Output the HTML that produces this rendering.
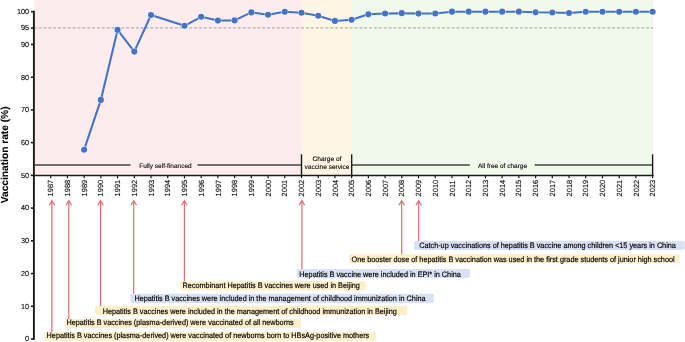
<!DOCTYPE html>
<html><head><meta charset="utf-8"><style>
html,body{margin:0;padding:0;background:#fff;width:685px;height:342px;overflow:hidden}
svg{display:block;font-family:"Liberation Sans", sans-serif;will-change:transform;text-rendering:geometricPrecision}
text{fill:#000;stroke:#000;stroke-width:.1px}
.an{fill:#000;stroke:#000;stroke-width:.16px}
</style></head><body>
<svg width="685" height="342" viewBox="0 0 685 342">
<rect x="34" y="0" width="268" height="175.5" fill="#fcecee"/>
<rect x="302" y="0" width="50" height="175.5" fill="#fff6e5"/>
<rect x="352" y="0" width="301" height="175.5" fill="#f1f8ec"/>
<line x1="33.8" y1="27.8" x2="653.22" y2="27.8" stroke="#b1aeae" stroke-width="1.3" stroke-dasharray="2.9 1.96"/>
<line x1="33.9" y1="10.8" x2="33.9" y2="339.7" stroke="#1a1a1a" stroke-width="1.9"/>
<line x1="30.9" y1="11.70" x2="34" y2="11.70" stroke="#1a1a1a" stroke-width="1.6"/>
<text x="29.1" y="14.05" text-anchor="end" font-size="7.3" fill="#222">100</text>
<line x1="30.9" y1="28.06" x2="34" y2="28.06" stroke="#1a1a1a" stroke-width="1.6"/>
<text x="29.1" y="30.41" text-anchor="end" font-size="7.3" fill="#222">95</text>
<line x1="30.9" y1="44.43" x2="34" y2="44.43" stroke="#1a1a1a" stroke-width="1.6"/>
<text x="29.1" y="46.78" text-anchor="end" font-size="7.3" fill="#222">90</text>
<line x1="30.9" y1="77.16" x2="34" y2="77.16" stroke="#1a1a1a" stroke-width="1.6"/>
<text x="29.1" y="79.51" text-anchor="end" font-size="7.3" fill="#222">80</text>
<line x1="30.9" y1="109.89" x2="34" y2="109.89" stroke="#1a1a1a" stroke-width="1.6"/>
<text x="29.1" y="112.24" text-anchor="end" font-size="7.3" fill="#222">70</text>
<line x1="30.9" y1="142.62" x2="34" y2="142.62" stroke="#1a1a1a" stroke-width="1.6"/>
<text x="29.1" y="144.97" text-anchor="end" font-size="7.3" fill="#222">60</text>
<line x1="30.9" y1="175.35" x2="34" y2="175.35" stroke="#1a1a1a" stroke-width="1.6"/>
<text x="29.1" y="177.70" text-anchor="end" font-size="7.3" fill="#222">50</text>
<line x1="30.9" y1="208.08" x2="34" y2="208.08" stroke="#1a1a1a" stroke-width="1.6"/>
<text x="29.1" y="210.43" text-anchor="end" font-size="7.3" fill="#222">40</text>
<line x1="30.9" y1="240.81" x2="34" y2="240.81" stroke="#1a1a1a" stroke-width="1.6"/>
<text x="29.1" y="243.16" text-anchor="end" font-size="7.3" fill="#222">30</text>
<line x1="30.9" y1="273.54" x2="34" y2="273.54" stroke="#1a1a1a" stroke-width="1.6"/>
<text x="29.1" y="275.89" text-anchor="end" font-size="7.3" fill="#222">20</text>
<line x1="30.9" y1="306.27" x2="34" y2="306.27" stroke="#1a1a1a" stroke-width="1.6"/>
<text x="29.1" y="308.62" text-anchor="end" font-size="7.3" fill="#222">10</text>
<line x1="30.9" y1="339.00" x2="34" y2="339.00" stroke="#1a1a1a" stroke-width="1.6"/>
<text x="29.1" y="341.35" text-anchor="end" font-size="7.3" fill="#222">0</text>
<line x1="33.1" y1="175.5" x2="653.52" y2="175.5" stroke="#1a1a1a" stroke-width="1.6"/>
<line x1="50.70" y1="175.5" x2="50.70" y2="178.3" stroke="#1a1a1a" stroke-width="1.2"/>
<text transform="translate(53.30,196.4) rotate(-90)" font-size="7.5" fill="#222">1987</text>
<line x1="67.42" y1="175.5" x2="67.42" y2="178.3" stroke="#1a1a1a" stroke-width="1.2"/>
<text transform="translate(70.02,196.4) rotate(-90)" font-size="7.5" fill="#222">1988</text>
<line x1="84.14" y1="175.5" x2="84.14" y2="178.3" stroke="#1a1a1a" stroke-width="1.2"/>
<text transform="translate(86.74,196.4) rotate(-90)" font-size="7.5" fill="#222">1989</text>
<line x1="100.86" y1="175.5" x2="100.86" y2="178.3" stroke="#1a1a1a" stroke-width="1.2"/>
<text transform="translate(103.46,196.4) rotate(-90)" font-size="7.5" fill="#222">1990</text>
<line x1="117.58" y1="175.5" x2="117.58" y2="178.3" stroke="#1a1a1a" stroke-width="1.2"/>
<text transform="translate(120.18,196.4) rotate(-90)" font-size="7.5" fill="#222">1991</text>
<line x1="134.30" y1="175.5" x2="134.30" y2="178.3" stroke="#1a1a1a" stroke-width="1.2"/>
<text transform="translate(136.90,196.4) rotate(-90)" font-size="7.5" fill="#222">1992</text>
<line x1="151.02" y1="175.5" x2="151.02" y2="178.3" stroke="#1a1a1a" stroke-width="1.2"/>
<text transform="translate(153.62,196.4) rotate(-90)" font-size="7.5" fill="#222">1993</text>
<line x1="167.74" y1="175.5" x2="167.74" y2="178.3" stroke="#1a1a1a" stroke-width="1.2"/>
<text transform="translate(170.34,196.4) rotate(-90)" font-size="7.5" fill="#222">1994</text>
<line x1="184.46" y1="175.5" x2="184.46" y2="178.3" stroke="#1a1a1a" stroke-width="1.2"/>
<text transform="translate(187.06,196.4) rotate(-90)" font-size="7.5" fill="#222">1995</text>
<line x1="201.18" y1="175.5" x2="201.18" y2="178.3" stroke="#1a1a1a" stroke-width="1.2"/>
<text transform="translate(203.78,196.4) rotate(-90)" font-size="7.5" fill="#222">1996</text>
<line x1="217.90" y1="175.5" x2="217.90" y2="178.3" stroke="#1a1a1a" stroke-width="1.2"/>
<text transform="translate(220.50,196.4) rotate(-90)" font-size="7.5" fill="#222">1997</text>
<line x1="234.62" y1="175.5" x2="234.62" y2="178.3" stroke="#1a1a1a" stroke-width="1.2"/>
<text transform="translate(237.22,196.4) rotate(-90)" font-size="7.5" fill="#222">1998</text>
<line x1="251.34" y1="175.5" x2="251.34" y2="178.3" stroke="#1a1a1a" stroke-width="1.2"/>
<text transform="translate(253.94,196.4) rotate(-90)" font-size="7.5" fill="#222">1999</text>
<line x1="268.06" y1="175.5" x2="268.06" y2="178.3" stroke="#1a1a1a" stroke-width="1.2"/>
<text transform="translate(270.66,196.4) rotate(-90)" font-size="7.5" fill="#222">2000</text>
<line x1="284.78" y1="175.5" x2="284.78" y2="178.3" stroke="#1a1a1a" stroke-width="1.2"/>
<text transform="translate(287.38,196.4) rotate(-90)" font-size="7.5" fill="#222">2001</text>
<line x1="301.50" y1="175.5" x2="301.50" y2="178.3" stroke="#1a1a1a" stroke-width="1.2"/>
<text transform="translate(304.10,196.4) rotate(-90)" font-size="7.5" fill="#222">2002</text>
<line x1="318.22" y1="175.5" x2="318.22" y2="178.3" stroke="#1a1a1a" stroke-width="1.2"/>
<text transform="translate(320.82,196.4) rotate(-90)" font-size="7.5" fill="#222">2003</text>
<line x1="334.94" y1="175.5" x2="334.94" y2="178.3" stroke="#1a1a1a" stroke-width="1.2"/>
<text transform="translate(337.54,196.4) rotate(-90)" font-size="7.5" fill="#222">2004</text>
<line x1="351.66" y1="175.5" x2="351.66" y2="178.3" stroke="#1a1a1a" stroke-width="1.2"/>
<text transform="translate(354.26,196.4) rotate(-90)" font-size="7.5" fill="#222">2005</text>
<line x1="368.38" y1="175.5" x2="368.38" y2="178.3" stroke="#1a1a1a" stroke-width="1.2"/>
<text transform="translate(370.98,196.4) rotate(-90)" font-size="7.5" fill="#222">2006</text>
<line x1="385.10" y1="175.5" x2="385.10" y2="178.3" stroke="#1a1a1a" stroke-width="1.2"/>
<text transform="translate(387.70,196.4) rotate(-90)" font-size="7.5" fill="#222">2007</text>
<line x1="401.82" y1="175.5" x2="401.82" y2="178.3" stroke="#1a1a1a" stroke-width="1.2"/>
<text transform="translate(404.42,196.4) rotate(-90)" font-size="7.5" fill="#222">2008</text>
<line x1="418.54" y1="175.5" x2="418.54" y2="178.3" stroke="#1a1a1a" stroke-width="1.2"/>
<text transform="translate(421.14,196.4) rotate(-90)" font-size="7.5" fill="#222">2009</text>
<line x1="435.26" y1="175.5" x2="435.26" y2="178.3" stroke="#1a1a1a" stroke-width="1.2"/>
<text transform="translate(437.86,196.4) rotate(-90)" font-size="7.5" fill="#222">2010</text>
<line x1="451.98" y1="175.5" x2="451.98" y2="178.3" stroke="#1a1a1a" stroke-width="1.2"/>
<text transform="translate(454.58,196.4) rotate(-90)" font-size="7.5" fill="#222">2011</text>
<line x1="468.70" y1="175.5" x2="468.70" y2="178.3" stroke="#1a1a1a" stroke-width="1.2"/>
<text transform="translate(471.30,196.4) rotate(-90)" font-size="7.5" fill="#222">2012</text>
<line x1="485.42" y1="175.5" x2="485.42" y2="178.3" stroke="#1a1a1a" stroke-width="1.2"/>
<text transform="translate(488.02,196.4) rotate(-90)" font-size="7.5" fill="#222">2013</text>
<line x1="502.14" y1="175.5" x2="502.14" y2="178.3" stroke="#1a1a1a" stroke-width="1.2"/>
<text transform="translate(504.74,196.4) rotate(-90)" font-size="7.5" fill="#222">2014</text>
<line x1="518.86" y1="175.5" x2="518.86" y2="178.3" stroke="#1a1a1a" stroke-width="1.2"/>
<text transform="translate(521.46,196.4) rotate(-90)" font-size="7.5" fill="#222">2015</text>
<line x1="535.58" y1="175.5" x2="535.58" y2="178.3" stroke="#1a1a1a" stroke-width="1.2"/>
<text transform="translate(538.18,196.4) rotate(-90)" font-size="7.5" fill="#222">2016</text>
<line x1="552.30" y1="175.5" x2="552.30" y2="178.3" stroke="#1a1a1a" stroke-width="1.2"/>
<text transform="translate(554.90,196.4) rotate(-90)" font-size="7.5" fill="#222">2017</text>
<line x1="569.02" y1="175.5" x2="569.02" y2="178.3" stroke="#1a1a1a" stroke-width="1.2"/>
<text transform="translate(571.62,196.4) rotate(-90)" font-size="7.5" fill="#222">2018</text>
<line x1="585.74" y1="175.5" x2="585.74" y2="178.3" stroke="#1a1a1a" stroke-width="1.2"/>
<text transform="translate(588.34,196.4) rotate(-90)" font-size="7.5" fill="#222">2019</text>
<line x1="602.46" y1="175.5" x2="602.46" y2="178.3" stroke="#1a1a1a" stroke-width="1.2"/>
<text transform="translate(605.06,196.4) rotate(-90)" font-size="7.5" fill="#222">2020</text>
<line x1="619.18" y1="175.5" x2="619.18" y2="178.3" stroke="#1a1a1a" stroke-width="1.2"/>
<text transform="translate(621.78,196.4) rotate(-90)" font-size="7.5" fill="#222">2021</text>
<line x1="635.90" y1="175.5" x2="635.90" y2="178.3" stroke="#1a1a1a" stroke-width="1.2"/>
<text transform="translate(638.50,196.4) rotate(-90)" font-size="7.5" fill="#222">2022</text>
<line x1="652.62" y1="175.5" x2="652.62" y2="178.3" stroke="#1a1a1a" stroke-width="1.2"/>
<text transform="translate(655.22,196.4) rotate(-90)" font-size="7.5" fill="#222">2023</text>
<line x1="34" y1="165" x2="130.5" y2="165" stroke="#454545" stroke-width="1.6"/>
<line x1="197.5" y1="165" x2="301.50" y2="165" stroke="#454545" stroke-width="1.6"/>
<line x1="351.66" y1="165" x2="469.8" y2="165" stroke="#454545" stroke-width="1.6"/>
<line x1="534.6" y1="165" x2="652.62" y2="165" stroke="#454545" stroke-width="1.6"/>
<line x1="301.50" y1="154.3" x2="301.50" y2="176" stroke="#1a1a1a" stroke-width="1.4"/>
<line x1="351.66" y1="154.3" x2="351.66" y2="176" stroke="#1a1a1a" stroke-width="1.4"/>
<line x1="652.62" y1="154.3" x2="652.62" y2="176" stroke="#1a1a1a" stroke-width="1.4"/>
<text x="139.3" y="167.6" font-size="6.5" fill="#222">Fully self-financed</text>
<text x="327" y="161" text-anchor="middle" font-size="6.6" fill="#222">Charge of</text>
<text x="327" y="168.7" text-anchor="middle" font-size="6.6" fill="#222">vaccine service</text>
<text x="477.9" y="167.6" font-size="6.5" fill="#222">All free of charge</text>
<polyline points="84.14,149.70 100.86,99.90 117.58,29.90 134.30,51.60 151.02,15.00 184.46,25.80 201.18,16.80 217.90,20.60 234.62,20.40 251.34,12.40 268.06,14.70 284.78,11.70 301.50,12.80 318.22,15.80 334.94,20.90 351.66,19.70 368.38,14.35 385.10,13.45 401.82,13.15 418.54,13.60 435.26,13.55 451.98,11.65 468.70,11.65 485.42,11.65 502.14,11.65 518.86,11.65 535.58,12.35 552.30,12.50 569.02,13.00 585.74,11.75 602.46,11.75 619.18,11.75 635.90,11.75 652.62,11.75" fill="none" stroke="#4472c4" stroke-width="2.05" stroke-linejoin="round"/>
<circle cx="84.14" cy="149.70" r="3.45" fill="#fff" fill-opacity="0.85"/>
<circle cx="84.14" cy="149.70" r="3.05" fill="#4472c4"/>
<circle cx="100.86" cy="99.90" r="3.45" fill="#fff" fill-opacity="0.85"/>
<circle cx="100.86" cy="99.90" r="3.05" fill="#4472c4"/>
<circle cx="117.58" cy="29.90" r="3.45" fill="#fff" fill-opacity="0.85"/>
<circle cx="117.58" cy="29.90" r="3.05" fill="#4472c4"/>
<circle cx="134.30" cy="51.60" r="3.45" fill="#fff" fill-opacity="0.85"/>
<circle cx="134.30" cy="51.60" r="3.05" fill="#4472c4"/>
<circle cx="151.02" cy="15.00" r="3.45" fill="#fff" fill-opacity="0.85"/>
<circle cx="151.02" cy="15.00" r="3.05" fill="#4472c4"/>
<circle cx="184.46" cy="25.80" r="3.45" fill="#fff" fill-opacity="0.85"/>
<circle cx="184.46" cy="25.80" r="3.05" fill="#4472c4"/>
<circle cx="201.18" cy="16.80" r="3.45" fill="#fff" fill-opacity="0.85"/>
<circle cx="201.18" cy="16.80" r="3.05" fill="#4472c4"/>
<circle cx="217.90" cy="20.60" r="3.45" fill="#fff" fill-opacity="0.85"/>
<circle cx="217.90" cy="20.60" r="3.05" fill="#4472c4"/>
<circle cx="234.62" cy="20.40" r="3.45" fill="#fff" fill-opacity="0.85"/>
<circle cx="234.62" cy="20.40" r="3.05" fill="#4472c4"/>
<circle cx="251.34" cy="12.40" r="3.45" fill="#fff" fill-opacity="0.85"/>
<circle cx="251.34" cy="12.40" r="3.05" fill="#4472c4"/>
<circle cx="268.06" cy="14.70" r="3.45" fill="#fff" fill-opacity="0.85"/>
<circle cx="268.06" cy="14.70" r="3.05" fill="#4472c4"/>
<circle cx="284.78" cy="11.70" r="3.45" fill="#fff" fill-opacity="0.85"/>
<circle cx="284.78" cy="11.70" r="3.05" fill="#4472c4"/>
<circle cx="301.50" cy="12.80" r="3.45" fill="#fff" fill-opacity="0.85"/>
<circle cx="301.50" cy="12.80" r="3.05" fill="#4472c4"/>
<circle cx="318.22" cy="15.80" r="3.45" fill="#fff" fill-opacity="0.85"/>
<circle cx="318.22" cy="15.80" r="3.05" fill="#4472c4"/>
<circle cx="334.94" cy="20.90" r="3.45" fill="#fff" fill-opacity="0.85"/>
<circle cx="334.94" cy="20.90" r="3.05" fill="#4472c4"/>
<circle cx="351.66" cy="19.70" r="3.45" fill="#fff" fill-opacity="0.85"/>
<circle cx="351.66" cy="19.70" r="3.05" fill="#4472c4"/>
<circle cx="368.38" cy="14.35" r="3.45" fill="#fff" fill-opacity="0.85"/>
<circle cx="368.38" cy="14.35" r="3.05" fill="#4472c4"/>
<circle cx="385.10" cy="13.45" r="3.45" fill="#fff" fill-opacity="0.85"/>
<circle cx="385.10" cy="13.45" r="3.05" fill="#4472c4"/>
<circle cx="401.82" cy="13.15" r="3.45" fill="#fff" fill-opacity="0.85"/>
<circle cx="401.82" cy="13.15" r="3.05" fill="#4472c4"/>
<circle cx="418.54" cy="13.60" r="3.45" fill="#fff" fill-opacity="0.85"/>
<circle cx="418.54" cy="13.60" r="3.05" fill="#4472c4"/>
<circle cx="435.26" cy="13.55" r="3.45" fill="#fff" fill-opacity="0.85"/>
<circle cx="435.26" cy="13.55" r="3.05" fill="#4472c4"/>
<circle cx="451.98" cy="11.65" r="3.45" fill="#fff" fill-opacity="0.85"/>
<circle cx="451.98" cy="11.65" r="3.05" fill="#4472c4"/>
<circle cx="468.70" cy="11.65" r="3.45" fill="#fff" fill-opacity="0.85"/>
<circle cx="468.70" cy="11.65" r="3.05" fill="#4472c4"/>
<circle cx="485.42" cy="11.65" r="3.45" fill="#fff" fill-opacity="0.85"/>
<circle cx="485.42" cy="11.65" r="3.05" fill="#4472c4"/>
<circle cx="502.14" cy="11.65" r="3.45" fill="#fff" fill-opacity="0.85"/>
<circle cx="502.14" cy="11.65" r="3.05" fill="#4472c4"/>
<circle cx="518.86" cy="11.65" r="3.45" fill="#fff" fill-opacity="0.85"/>
<circle cx="518.86" cy="11.65" r="3.05" fill="#4472c4"/>
<circle cx="535.58" cy="12.35" r="3.45" fill="#fff" fill-opacity="0.85"/>
<circle cx="535.58" cy="12.35" r="3.05" fill="#4472c4"/>
<circle cx="552.30" cy="12.50" r="3.45" fill="#fff" fill-opacity="0.85"/>
<circle cx="552.30" cy="12.50" r="3.05" fill="#4472c4"/>
<circle cx="569.02" cy="13.00" r="3.45" fill="#fff" fill-opacity="0.85"/>
<circle cx="569.02" cy="13.00" r="3.05" fill="#4472c4"/>
<circle cx="585.74" cy="11.75" r="3.45" fill="#fff" fill-opacity="0.85"/>
<circle cx="585.74" cy="11.75" r="3.05" fill="#4472c4"/>
<circle cx="602.46" cy="11.75" r="3.45" fill="#fff" fill-opacity="0.85"/>
<circle cx="602.46" cy="11.75" r="3.05" fill="#4472c4"/>
<circle cx="619.18" cy="11.75" r="3.45" fill="#fff" fill-opacity="0.85"/>
<circle cx="619.18" cy="11.75" r="3.05" fill="#4472c4"/>
<circle cx="635.90" cy="11.75" r="3.45" fill="#fff" fill-opacity="0.85"/>
<circle cx="635.90" cy="11.75" r="3.05" fill="#4472c4"/>
<circle cx="652.62" cy="11.75" r="3.45" fill="#fff" fill-opacity="0.85"/>
<circle cx="652.62" cy="11.75" r="3.05" fill="#4472c4"/>
<text transform="translate(8.1,154.85) rotate(-90)" text-anchor="middle" font-size="10.2" font-weight="bold" fill="#111">Vaccination rate (%)</text>
<line x1="51.9" y1="201" x2="51.9" y2="332.5" stroke="#e06c70" stroke-width="1.2"/>
<polyline points="49.1,205.2 51.9,200.6 54.699999999999996,205.2" fill="none" stroke="#e06c70" stroke-width="1.2"/>
<rect x="44.2" y="332.0" width="332.10" height="8.80" rx="1.4" fill="#fdefc9"/>
<text class="an" transform="translate(46.6,338.05) scale(1,1.08)" font-size="7.28">Hepatitis B vaccines (plasma-derived) were vaccinated of newborns born to HBsAg-positive mothers</text>
<line x1="68.8" y1="201" x2="68.8" y2="319.5" stroke="#e06c70" stroke-width="1.2"/>
<polyline points="66.0,205.2 68.8,200.6 71.6,205.2" fill="none" stroke="#e06c70" stroke-width="1.2"/>
<rect x="65.1" y="319.0" width="236.00" height="9.10" rx="1.4" fill="#fdefc9"/>
<text class="an" transform="translate(66.4,324.8) scale(1,1.08)" font-size="7.28">Hepatitis B vaccines (plasma-derived) were vaccinated of all newborns</text>
<line x1="100.6" y1="201" x2="100.6" y2="306.6" stroke="#e06c70" stroke-width="1.2"/>
<polyline points="97.8,205.2 100.6,200.6 103.39999999999999,205.2" fill="none" stroke="#e06c70" stroke-width="1.2"/>
<rect x="95.1" y="306.1" width="312.10" height="8.90" rx="1.4" fill="#fdefc9"/>
<text class="an" transform="translate(102.7,313.6) scale(1,1.08)" font-size="7.28">Hepatitis B vaccines were included in the management of childhood immunization in Beijing</text>
<line x1="133.7" y1="201" x2="133.7" y2="294.3" stroke="#e06c70" stroke-width="1.2"/>
<polyline points="130.89999999999998,205.2 133.7,200.6 136.5,205.2" fill="none" stroke="#e06c70" stroke-width="1.2"/>
<rect x="130.4" y="293.8" width="303.40" height="9.10" rx="1.4" fill="#d9e2f4"/>
<text class="an" transform="translate(134.4,301.3) scale(1,1.08)" font-size="7.28">Hepatitis B vaccines were included in the management of childhood immunization in China</text>
<line x1="184.4" y1="201" x2="184.4" y2="281.8" stroke="#e06c70" stroke-width="1.2"/>
<polyline points="181.6,205.2 184.4,200.6 187.20000000000002,205.2" fill="none" stroke="#e06c70" stroke-width="1.2"/>
<rect x="179.8" y="281.3" width="185.90" height="8.90" rx="1.4" fill="#fdefc9"/>
<text class="an" transform="translate(182.6,288.0) scale(1,1.08)" font-size="7.28">Recombinant Hepatitis B vaccines were used in Beijing</text>
<line x1="301.9" y1="201" x2="301.9" y2="269.45" stroke="#e06c70" stroke-width="1.2"/>
<polyline points="299.09999999999997,205.2 301.9,200.6 304.7,205.2" fill="none" stroke="#e06c70" stroke-width="1.2"/>
<rect x="296.8" y="268.95" width="173.20" height="9.05" rx="1.4" fill="#d9e2f4"/>
<text class="an" transform="translate(299.3,277.0) scale(1,1.08)" font-size="7.28">Hepatitis B vaccine were included in EPI* in China</text>
<line x1="401.7" y1="201" x2="401.7" y2="254.7" stroke="#e06c70" stroke-width="1.2"/>
<polyline points="398.9,205.2 401.7,200.6 404.5,205.2" fill="none" stroke="#e06c70" stroke-width="1.2"/>
<rect x="349.0" y="254.2" width="330.60" height="8.90" rx="1.4" fill="#fdefc9"/>
<text class="an" transform="translate(351.5,261.6) scale(1,1.08)" font-size="7.28">One booster dose of hepatitis B vaccination was used in the first grade students of junior high school</text>
<line x1="418.7" y1="201" x2="418.7" y2="241.5" stroke="#e06c70" stroke-width="1.2"/>
<polyline points="415.9,205.2 418.7,200.6 421.5,205.2" fill="none" stroke="#e06c70" stroke-width="1.2"/>
<rect x="414.1" y="241.0" width="270.60" height="8.90" rx="1.4" fill="#d9e2f4"/>
<text class="an" transform="translate(419.2,248.3) scale(1,1.08)" font-size="7.28">Catch-up vaccinations of hepatitis B vaccine among children &lt;15 years in China</text>
</svg>
</body></html>
